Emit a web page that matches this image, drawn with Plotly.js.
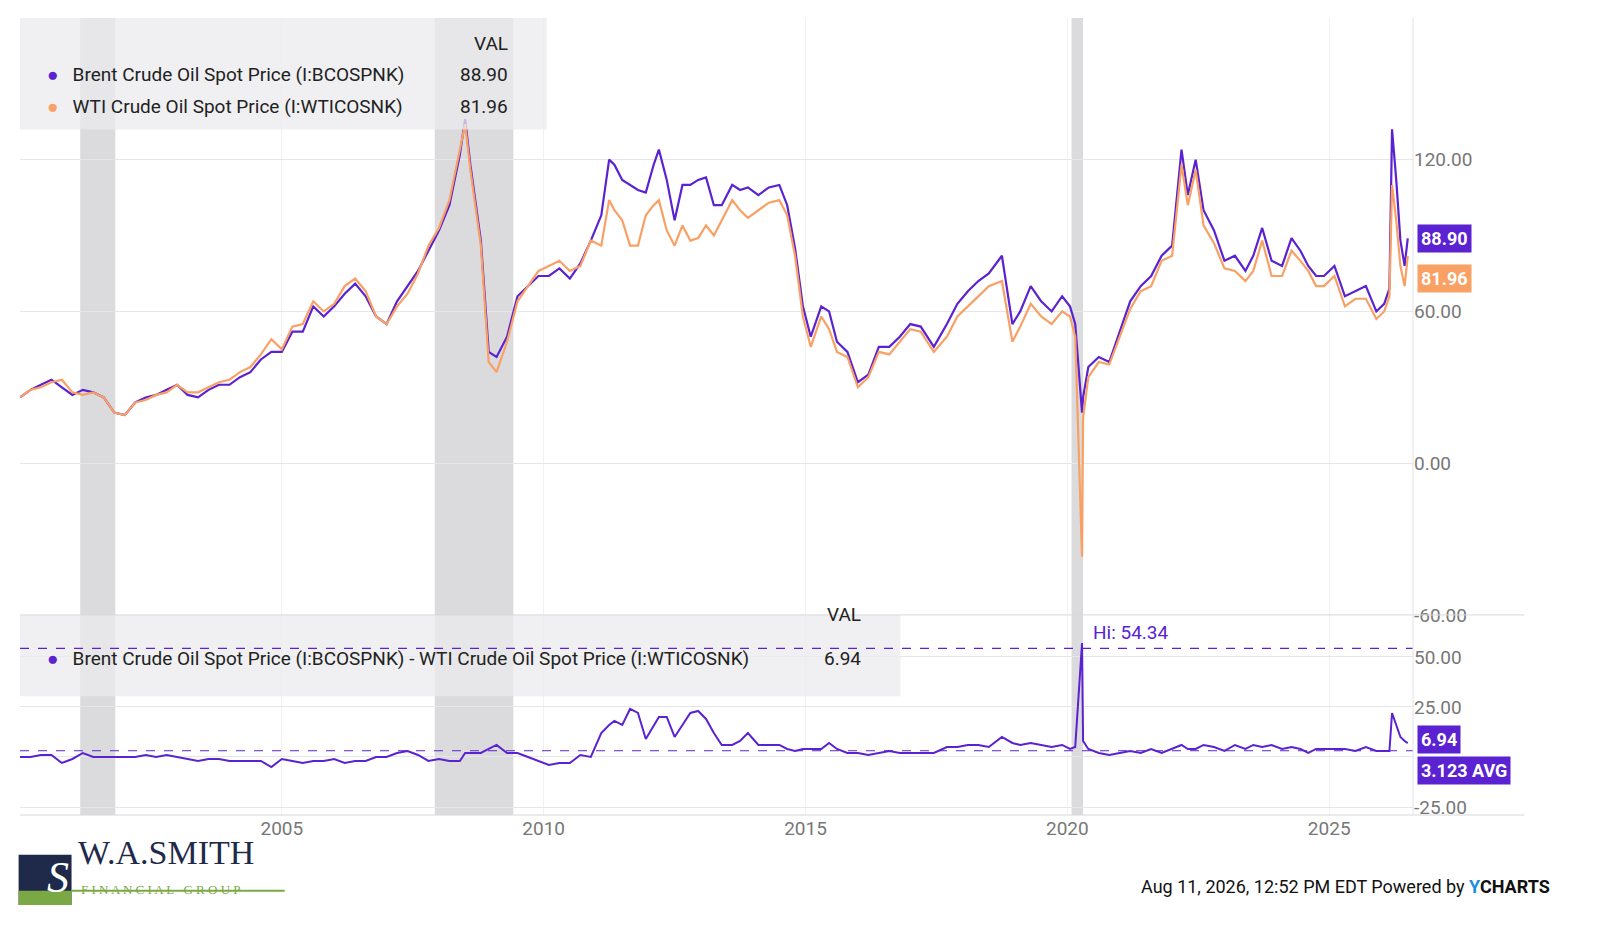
<!DOCTYPE html>
<html>
<head>
<meta charset="utf-8">
<script src="https://cdn.plot.ly/plotly-3.0.1.min.js"></script>
<style>
  html, body { margin: 0; padding: 0; background: #fff; }
  #chart { width: 1600px; height: 940px; }
</style>
</head>
<body>
<div id="chart"></div>
<script>
// Dates as decimal years
const dates = [
  2000.0, 2000.2, 2000.4, 2000.6, 2000.8, 2001.0, 2001.2, 2001.4, 2001.6, 2001.8,
  2002.0, 2002.2, 2002.4, 2002.6, 2002.8, 2003.0, 2003.2, 2003.4, 2003.6, 2003.8,
  2004.0, 2004.2, 2004.4, 2004.6, 2004.8, 2005.0, 2005.2, 2005.4, 2005.6, 2005.8,
  2006.0, 2006.2, 2006.4, 2006.6, 2006.8, 2007.0, 2007.2, 2007.4, 2007.6, 2007.8,
  2008.0, 2008.2, 2008.4, 2008.5, 2008.6, 2008.8, 2008.95, 2009.1, 2009.3, 2009.5,
  2009.7, 2009.9, 2010.1, 2010.3, 2010.5, 2010.7, 2010.9, 2011.1, 2011.25, 2011.35,
  2011.5, 2011.65, 2011.8, 2011.95, 2012.1, 2012.2, 2012.35, 2012.5, 2012.65, 2012.8,
  2012.95, 2013.1, 2013.25, 2013.4, 2013.6, 2013.75, 2013.9, 2014.1, 2014.3, 2014.5,
  2014.65, 2014.8, 2014.95, 2015.1, 2015.3, 2015.45, 2015.6, 2015.8, 2016.0, 2016.2,
  2016.4, 2016.6, 2016.8, 2017.0, 2017.2, 2017.45, 2017.7, 2017.9, 2018.1, 2018.3,
  2018.5, 2018.75, 2018.95, 2019.1, 2019.3, 2019.5, 2019.7, 2019.9, 2020.05, 2020.15,
  2020.28, 2020.3, 2020.4, 2020.6, 2020.8, 2021.0, 2021.2, 2021.4, 2021.6, 2021.8,
  2022.0, 2022.18, 2022.3, 2022.45, 2022.6, 2022.8, 2023.0, 2023.2, 2023.4, 2023.55,
  2023.72, 2023.9, 2024.1, 2024.28, 2024.45, 2024.6, 2024.75, 2024.9, 2025.1, 2025.3,
  2025.5, 2025.7, 2025.9, 2026.05, 2026.15, 2026.2, 2026.28, 2026.36, 2026.44, 2026.5
];
const brent = [
  26, 29, 31, 33, 30, 27, 29, 28, 26, 20,
  19, 24, 26, 27, 29, 31, 27, 26, 29, 31,
  31, 34, 36, 41, 44, 44, 52, 52, 62, 58,
  62, 67, 71, 66, 58, 55, 64, 70, 76, 84,
  92, 102, 122, 136, 118, 88, 44, 42, 50, 66,
  70, 74, 74, 77, 73, 79, 88, 98, 120, 118,
  112, 110, 108, 107, 118, 124, 112, 96, 110, 110,
  112, 113, 102, 102, 110, 108, 109, 106, 109, 110,
  102, 85, 62, 50, 62, 60, 48, 44, 32, 35,
  46, 46, 50, 55, 54, 46, 55, 63, 68, 72,
  75, 82, 55, 60, 70, 64, 60, 66, 62, 55,
  20, 26, 38, 42, 40, 52, 64, 70, 74, 82,
  86, 124, 106, 120, 100, 92, 80, 82, 76, 82,
  93, 80, 78, 89, 84, 78, 74, 74, 78, 66,
  68, 70, 60, 63, 69, 132, 112, 88, 78, 88.90
];
const wti = [
  26, 29, 30, 32, 33, 28, 27, 28, 26, 20,
  19, 24, 25, 27, 28, 31, 28, 28, 30, 32,
  33, 36, 38, 43, 49, 45, 54, 55, 64, 60,
  63, 70, 73, 68, 58, 55, 62, 67, 75, 86,
  93, 104, 124, 134, 116, 86, 40, 36, 48, 64,
  70, 76, 78, 80, 76, 78, 88, 86, 104, 100,
  96, 86, 86, 98, 102, 104, 92, 86, 94, 88,
  89, 94, 90, 96, 104, 100, 97, 100, 103, 104,
  98, 82, 58, 46, 58, 53, 44, 42, 30, 34,
  44, 43, 48, 53, 52, 44, 50, 58, 62, 66,
  70, 72, 48, 54, 63, 58, 55, 60, 58, 50,
  -37, 18, 34, 40, 39, 50, 61, 68, 70, 80,
  82, 118, 102, 116, 94, 87, 77, 76, 72, 76,
  88, 74, 74, 84, 80, 76, 70, 70, 74, 62,
  65, 65, 57, 60, 66, 110, 96, 78, 70, 81.96
];
const spread = brent.map((b, i) => b - wti[i]);
const spreadHi = 54.34;
const spreadAvg = 3.123;
const xTicks = [2005, 2010, 2015, 2020, 2025];
const recessions = [[2001.15, 2001.82], [2007.92, 2009.42], [2020.08, 2020.3]];

const purple = '#5a22d0';
const orange = '#f9a065';

const shapes = [];
recessions.forEach(r => {
  shapes.push({ type: 'rect', xref: 'x', yref: 'paper', x0: r[0], x1: r[1], y0: 0, y1: 1,
    fillcolor: 'rgba(190,190,195,0.55)', line: { width: 0 }, layer: 'below' });
});
// legend boxes
shapes.push({ type: 'rect', xref: 'paper', yref: 'paper', x0: 0, x1: 0.378, y0: 0.86, y1: 1,
  fillcolor: 'rgba(235,235,238,0.75)', line: { width: 0 } });
shapes.push({ type: 'rect', xref: 'paper', yref: 'paper', x0: 0, x1: 0.632, y0: 0.149, y1: 0.251,
  fillcolor: 'rgba(235,235,238,0.75)', line: { width: 0 } });
// dashed hi / avg lines on the spread panel
shapes.push({ type: 'line', xref: 'x2', yref: 'y2', x0: 2000, x1: 2026.6, y0: spreadHi, y1: spreadHi,
  line: { color: purple, width: 1.2, dash: 'dash' } });
shapes.push({ type: 'line', xref: 'x2', yref: 'y2', x0: 2000, x1: 2026.6, y0: spreadAvg, y1: spreadAvg,
  line: { color: purple, width: 1, dash: 'dash' } });
// panel separator and frame
shapes.push({ type: 'line', xref: 'paper', yref: 'paper', x0: 0, x1: 1.08, y0: 0.251, y1: 0.251,
  line: { color: '#d8d8dc', width: 1 } });
shapes.push({ type: 'line', xref: 'paper', yref: 'paper', x0: 0, x1: 1.08, y0: 0, y1: 0,
  line: { color: '#d8d8dc', width: 1 } });
shapes.push({ type: 'line', xref: 'paper', yref: 'paper', x0: 1, x1: 1, y0: 0, y1: 1,
  line: { color: '#e2e2e6', width: 1 } });
// logo block
shapes.push({ type: 'rect', xref: 'paper', yref: 'paper', x0: -0.001, x1: 0.037, y0: -0.113, y1: -0.05,
  fillcolor: '#1f2a4a', line: { width: 0 } });
shapes.push({ type: 'rect', xref: 'paper', yref: 'paper', x0: -0.001, x1: 0.037, y0: -0.113, y1: -0.095,
  fillcolor: '#7aa844', line: { width: 0 } });
shapes.push({ type: 'line', xref: 'paper', yref: 'paper', x0: 0.037, x1: 0.19, y0: -0.095, y1: -0.095,
  line: { color: '#7aa844', width: 2 } });

const tf = { family: 'Roboto, "Open Sans", sans-serif', size: 19, color: '#222' };
const tag = (y, yref, text, bg) => ({ xref: 'paper', yref: yref, x: 1.003, y: y, xanchor: 'left',
  text: '<b>' + text + '</b>', showarrow: false, bgcolor: bg, borderpad: 3,
  font: { family: 'Roboto, sans-serif', size: 18, color: '#fff' } });

const annotations = [
  { xref: 'paper', yref: 'paper', x: 0.352, y: 0.985, xanchor: 'right', yanchor: 'top', text: 'VAL', showarrow: false, font: tf },
  { xref: 'paper', yref: 'paper', x: 0.018, y: 0.946, xanchor: 'left', text: '<span style="color:' + purple + '">●</span>   Brent Crude Oil Spot Price (I:BCOSPNK)', showarrow: false, font: tf },
  { xref: 'paper', yref: 'paper', x: 0.352, y: 0.946, xanchor: 'right', text: '88.90', showarrow: false, font: tf },
  { xref: 'paper', yref: 'paper', x: 0.018, y: 0.906, xanchor: 'left', text: '<span style="color:' + orange + '">●</span>   WTI Crude Oil Spot Price (I:WTICOSNK)', showarrow: false, font: tf },
  { xref: 'paper', yref: 'paper', x: 0.352, y: 0.906, xanchor: 'right', text: '81.96', showarrow: false, font: tf },
  { xref: 'paper', yref: 'paper', x: 0.605, y: 0.235, xanchor: 'right', text: 'VAL', showarrow: false, font: tf },
  { xref: 'paper', yref: 'paper', x: 0.018, y: 0.18, xanchor: 'left', text: '<span style="color:' + purple + '">●</span>   Brent Crude Oil Spot Price (I:BCOSPNK) - WTI Crude Oil Spot Price (I:WTICOSNK)', showarrow: false, font: tf },
  { xref: 'paper', yref: 'paper', x: 0.605, y: 0.18, xanchor: 'right', text: '6.94', showarrow: false, font: tf },
  { xref: 'x2', yref: 'y2', x: 2020.45, y: spreadHi + 8, xanchor: 'left', text: 'Hi: ' + spreadHi.toFixed(2), showarrow: false,
    font: { family: 'Roboto, sans-serif', size: 19, color: purple } },
  tag(88.90, 'y', '88.90', purple),
  tag(81.96 - 9, 'y', '81.96', orange),
  tag(6.94 + 2, 'y2', '6.94', purple),
  tag(spreadAvg - 10, 'y2', '3.123 AVG', purple),
  { xref: 'paper', yref: 'paper', x: 0.04, y: -0.073, xanchor: 'left', text: 'W.A.SMITH', showarrow: false,
    font: { family: '"Liberation Serif", serif', size: 34, color: '#1f2a4a' } },
  { xref: 'paper', yref: 'paper', x: 0.042, y: -0.106, xanchor: 'left', text: 'F I N A N C I A L   G R O U P', showarrow: false,
    font: { family: '"Liberation Serif", serif', size: 13, color: '#7aa844' } },
  { xref: 'paper', yref: 'paper', x: 0.018, y: -0.078, yanchor: 'middle', text: '<i>S</i>', showarrow: false,
    font: { family: '"Liberation Serif", serif', size: 44, color: '#fff' } },
  { xref: 'paper', yref: 'paper', x: 1.1, y: -0.105, xanchor: 'right', showarrow: false,
    text: 'Aug 11, 2026, 12:52 PM EDT Powered by <b><span style="color:#1c8fe0">Y</span><span style="color:#111">CHARTS</span></b>',
    font: { family: 'Roboto, sans-serif', size: 18, color: '#111' } }
];

const axisFont = { family: 'Roboto, sans-serif', size: 19, color: '#777' };

Plotly.newPlot('chart', [
  { x: dates, y: brent, type: 'scatter', mode: 'lines', line: { color: purple, width: 2.2 }, xaxis: 'x', yaxis: 'y' },
  { x: dates, y: wti, type: 'scatter', mode: 'lines', line: { color: orange, width: 2.2 }, xaxis: 'x', yaxis: 'y' },
  { x: dates, y: spread, type: 'scatter', mode: 'lines', line: { color: purple, width: 2 }, xaxis: 'x2', yaxis: 'y2' }
], {
  width: 1600, height: 940,
  margin: { l: 20, r: 187, t: 18, b: 125 },
  paper_bgcolor: '#fff', plot_bgcolor: '#fff',
  showlegend: false,
  xaxis: { range: [2000, 2026.6], domain: [0, 1], anchor: 'y', showticklabels: false,
    tickvals: xTicks, showgrid: true, gridcolor: '#f1f1f3', zeroline: false },
  yaxis: { range: [-60, 176], domain: [0.251, 1], side: 'right', tickvals: [-60, 0, 60, 120],
    ticktext: ['-60.00', '0.00', '60.00', '120.00'], gridcolor: '#e6e6ea', zeroline: false,
    tickfont: axisFont },
  xaxis2: { range: [2000, 2026.6], domain: [0, 1], anchor: 'y2', tickvals: xTicks,
    ticktext: xTicks.map(String), showgrid: true, gridcolor: '#f1f1f3', zeroline: false, tickfont: axisFont },
  yaxis2: { range: [-29, 71], domain: [0, 0.251], side: 'right', tickvals: [-25, 0, 25, 50],
    ticktext: ['-25.00', '', '25.00', '50.00'], gridcolor: '#e6e6ea', zeroline: false, tickfont: axisFont },
  shapes: shapes,
  annotations: annotations
}, { staticPlot: true });
</script>
</body>
</html>
